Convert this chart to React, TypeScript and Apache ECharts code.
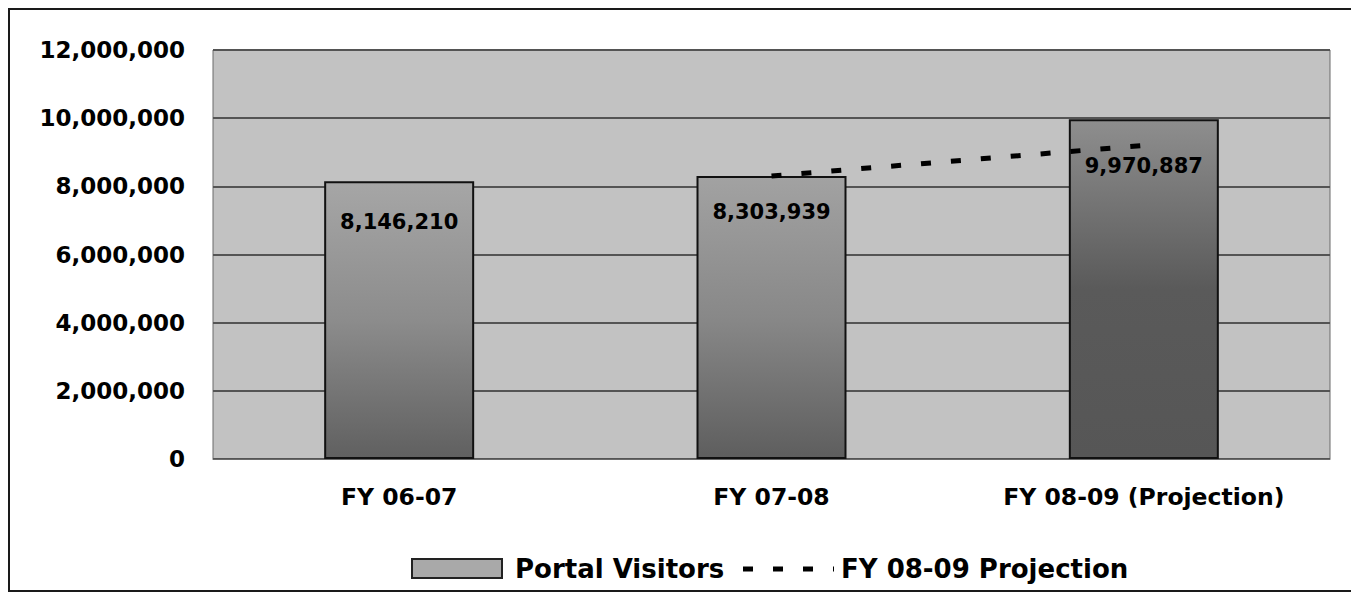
import React, { useEffect, useRef } from "react";
import * as echarts from "echarts";

const categories = ["FY 06-07", "FY 07-08", "FY 08-09 (Projection)"];
const portalVisitors = [8146210, 8303939, 9970887];
const projection = [null, 8303939, 9200000];
const yTicks = { min: 0, max: 12000000, interval: 2000000 };
const legendNames = ["Portal Visitors", "FY 08-09 Projection"];

const barGradients = [
  ["#a6a6a6", "#8c8c8c", "#606060"],
  ["#a2a2a2", "#888888", "#5e5e5e"],
  ["#8e8e8e", "#5a5a5a", "#565656"],
];
const labelDistances = [30, 26, 36];

const fmt = (v: number) => v.toLocaleString("en-US");

export default function App() {
  const ref = useRef<HTMLDivElement>(null);
  useEffect(() => {
    if (!ref.current) return;
    const chart = echarts.init(ref.current, null, { renderer: "svg" });
    const font = "DejaVu Sans";
    const grad = (c: string[]) =>
      new echarts.graphic.LinearGradient(0, 0, 0, 1, [
        { offset: 0, color: c[0] },
        { offset: 0.5, color: c[1] },
        { offset: 1, color: c[2] },
      ]);
    chart.setOption({
      animation: false,
      backgroundColor: "#ffffff",
      grid: {
        left: 203,
        right: 21,
        top: 40,
        bottom: 131,
        show: true,
        backgroundColor: "#c2c2c2",
        borderColor: "#6a6a6a",
        borderWidth: 1,
      },
      legend: { show: false },
      graphic: [
        {
          type: "rect",
          shape: { x: 402, y: 549, width: 90, height: 19 },
          style: { fill: "#a9a9a9", stroke: "#222", lineWidth: 2 },
        },
        {
          type: "text",
          x: 505,
          y: 559,
          style: {
            text: legendNames[0],
            fontFamily: font,
            fontWeight: "bold",
            fontSize: 26,
            fill: "#000",
            verticalAlign: "middle",
          },
        },
        {
          type: "line",
          shape: { x1: 733, y1: 559, x2: 824, y2: 559 },
          style: { stroke: "#000", lineWidth: 5, lineDash: [10, 20] },
        },
        {
          type: "text",
          x: 831,
          y: 559,
          style: {
            text: legendNames[1],
            fontFamily: font,
            fontWeight: "bold",
            fontSize: 26,
            fill: "#000",
            verticalAlign: "middle",
          },
        },
      ],
      xAxis: {
        type: "category",
        data: categories,
        axisLine: { show: true, lineStyle: { color: "#6a6a6a", width: 1 } },
        axisTick: { show: false },
        axisLabel: {
          margin: 26,
          fontFamily: font,
          fontWeight: "bold",
          fontSize: 23.5,
          color: "#000",
        },
      },
      yAxis: {
        type: "value",
        min: yTicks.min,
        max: yTicks.max,
        interval: yTicks.interval,
        axisLine: { show: false },
        axisTick: { show: false },
        splitLine: { show: true, lineStyle: { color: "#545454", width: 2 } },
        axisLabel: {
          margin: 28,
          fontFamily: font,
          fontWeight: "bold",
          fontSize: 23,
          color: "#000",
          formatter: (v: number) => fmt(v),
        },
      },
      series: [
        {
          name: legendNames[0],
          type: "bar",
          barWidth: 150,
          itemStyle: { color: "#8c8c8c", borderColor: "#111", borderWidth: 2 },
          data: portalVisitors.map((v, i) => ({
            value: v,
            itemStyle: {
              color: grad(barGradients[i]),
              borderColor: "#111",
              borderWidth: 2,
            },
            label: { distance: labelDistances[i] },
          })),
          label: {
            show: true,
            position: "insideTop",
            distance: 28,
            fontFamily: font,
            fontWeight: "bold",
            fontSize: 21,
            color: "#000",
            formatter: (p: any) => fmt(p.value),
          },
          z: 2,
        },
        {
          name: legendNames[1],
          type: "line",
          data: projection,
          showSymbol: false,
          symbol: "none",
          lineStyle: { color: "#000", width: 5, type: [10, 20] },
          itemStyle: { color: "#000" },
          z: 3,
        },
      ],
    });
    return () => chart.dispose();
  }, []);
  return (
    <div
      style={{
        width: 1345,
        height: 584,
        border: "2px solid #1a1a1a",
        boxSizing: "border-box",
        background: "#fff",
      }}
    >
      <div ref={ref} style={{ width: 1341, height: 580 }} />
    </div>
  );
}
